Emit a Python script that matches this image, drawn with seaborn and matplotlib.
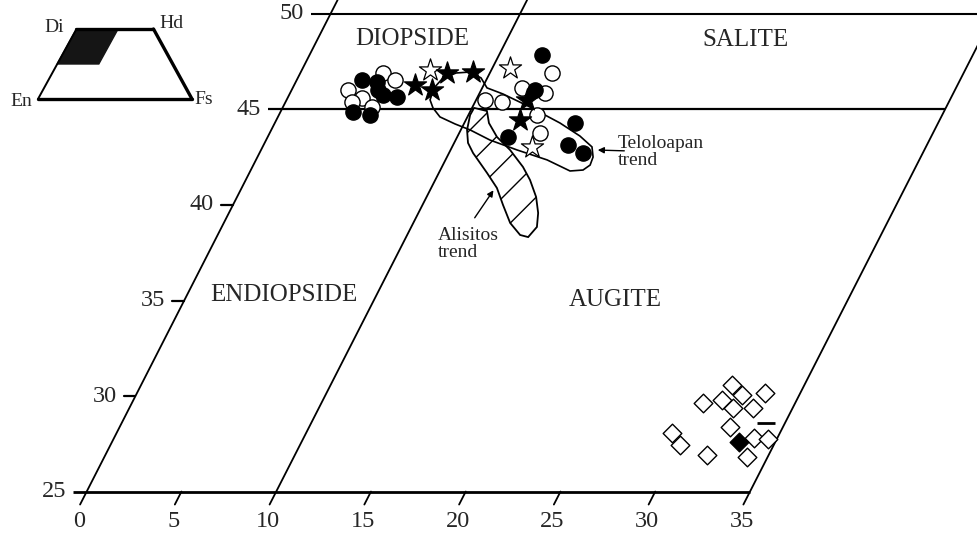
import numpy as np
import seaborn as sns
import matplotlib.pyplot as plt
from matplotlib.patches import Polygon

sns.set_theme(style='white')
plt.rcParams['font.family'] = ['Liberation Serif', 'DejaVu Serif']
plt.rcParams['hatch.linewidth'] = 1.0

# pyroxene compositions (Fs %, Wo %)
dot_fs = [12.25, 3.43, 4.26, 4.57, 4.97, 5.73, 3.84, 4.81, 12.84, 15.85, 12.69, 16.08, 17.10]
dot_wo = [47.85, 46.54, 46.46, 46.02, 45.76, 45.67, 44.88, 44.71, 46.02, 44.28, 43.58, 43.14, 42.71]
ring_fs = [2.98, 4.38, 5.19, 3.92, 3.48, 4.67, 13.27, 12.10, 13.45, 10.47, 11.40, 13.61, 14.27]
ring_wo = [46.02, 46.90, 46.54, 45.59, 45.41, 45.15, 46.90, 46.11, 45.85, 45.50, 45.41, 44.71, 43.75]
star_fs = [6.37, 7.39, 7.73, 9.09, 12.67, 12.86]
star_wo = [46.28, 46.02, 46.90, 46.98, 45.50, 44.45]
ostar_fs = [6.77, 10.94, 14.19]
ostar_wo = [47.07, 47.16, 43.05]
diam_fs = [31.17, 30.16, 31.05, 31.96, 33.15, 31.88, 32.94, 32.20, 29.30, 30.06, 33.75, 34.56, 31.74, 33.89]
diam_wo = [30.58, 29.62, 29.79, 30.05, 30.14, 29.36, 29.36, 28.39, 28.05, 27.43, 27.79, 27.73, 26.91, 26.82]
fdiam_fs = [33.05]
fdiam_wo = [27.61]
dash_fs = [33.99]
dash_wo = [28.60]

# trend fields
telo_fs = [7.57, 7.46, 7.64, 8.22, 8.93, 9.67, 10.25, 11.26, 13.03, 15.05, 16.45, 17.38, 17.71, 17.77,
           17.53, 16.87, 15.36, 13.51, 11.81, 10.49, 9.54, 8.55, 7.94]
telo_wo = [45.50, 46.13, 46.60, 46.91, 46.96, 46.65, 46.13, 45.81, 45.13, 44.29, 43.61, 43.04, 42.51, 42.09,
           41.83, 41.78, 42.36, 42.88, 43.40, 43.93, 44.24, 44.61, 45.08]
alis_fs = [10.11, 10.87, 11.30, 12.10, 13.14, 14.28, 15.00, 15.78, 16.32, 16.63, 16.44, 15.96, 15.11, 14.25,
           13.47, 12.54, 11.27, 10.73, 10.33, 10.09]
alis_wo = [45.08, 44.92, 44.29, 43.56, 42.88, 41.99, 41.31, 40.42, 39.58, 38.85, 38.32, 38.43, 39.06, 40.00,
           40.89, 41.68, 42.72, 43.25, 43.93, 44.71]

# field boundaries and labels
fs_bounds = [0, 10, 35]
wo_bounds = [25, 45, 50]
fs_ticks = [0, 5, 10, 15, 20, 25, 30, 35]
wo_ticks = [25, 30, 35, 40, 45, 50]
fields = ['DIOPSIDE', 'SALITE', 'ENDIOPSIDE', 'AUGITE']
field_fs = [5.0, 22.6, 5.1, 22.7]
field_wo = [48.7, 48.65, 35.3, 35.05]

# inset quadrilateral (En-Fs-Hd-Di) and shaded field
quad_names = ['En', 'Fs', 'Hd', 'Di']
quad_fs = [0, 100, 50, 0]
quad_wo = [0, 0, 50, 50]
shade_fs = [0, 27, 27, 0]
shade_wo = [25, 25, 50, 50]

K = 0.5145


def sk(fs, wo, base=25, k=K):
    return np.asarray(fs, dtype=float) + k * (np.asarray(wo, dtype=float) - base)


fig = plt.figure(figsize=(9.78, 5.33), dpi=100)
ax = fig.add_axes([0, 0, 1, 1])
ax.set_xlim(-4.575, 47.03)
ax.set_ylim(22.83, 50.73)
ax.axis('off')

# horizontal boundaries
for wo, start, lw in zip(wo_bounds, [-0.7, -0.75, -1.05], [2.0, 1.6, 1.5]):
    ax.plot(sk([start, 35], [wo, wo]), [wo, wo], color='black', lw=lw, solid_capstyle='butt')
# slanted boundaries
for fs in fs_bounds:
    ax.plot(sk([fs, fs], [24.32, 50.73]), [24.32, 50.73], color='black', lw=1.3)
for fs in fs_ticks:
    if fs not in fs_bounds:
        ax.plot(sk([fs, fs], [24.32, 25]), [24.32, 25], color='black', lw=1.3)
    ax.annotate(str(fs), xy=(sk(fs, 25), 25), xytext=(-8, -30), textcoords='offset pixels',
                ha='center', va='center', fontsize=17.5)
for wo in wo_ticks:
    length = {25: 0.7, 45: 0.75, 50: 1.05}.get(wo, 0.63)
    if wo not in wo_bounds:
        ax.plot(sk([-length, 0], [wo, wo]), [wo, wo], color='black', lw=1.6)
    ax.annotate(str(wo), xy=(sk(-length, wo), wo), xytext=(-7, 0), textcoords='offset pixels',
                ha='right', va='center', fontsize=17.5)

for name, fs, wo in zip(fields, field_fs, field_wo):
    ax.text(sk(fs, wo), wo, name, ha='center', va='center', fontsize=18)

# trend fields
ax.add_patch(Polygon(np.column_stack([sk(alis_fs, alis_wo), alis_wo]), closed=True,
                     facecolor='white', edgecolor='black', lw=1.3, hatch='/', zorder=2))
ax.add_patch(Polygon(np.column_stack([sk(telo_fs, telo_wo), telo_wo]), closed=True,
                     fill=False, edgecolor='black', lw=1.2, zorder=3))

# data points
sns.scatterplot(x=sk(ring_fs, ring_wo), y=ring_wo, marker='o', s=120, color='white',
                edgecolor='black', linewidth=1.0, ax=ax, zorder=4)
sns.scatterplot(x=sk(dot_fs, dot_wo), y=dot_wo, marker='o', s=120, color='black',
                edgecolor='black', linewidth=1.0, ax=ax, zorder=5)
sns.scatterplot(x=sk(ostar_fs, ostar_wo), y=ostar_wo, marker='*', s=280, color='white',
                edgecolor='black', linewidth=0.9, ax=ax, zorder=5)
sns.scatterplot(x=sk(star_fs, star_wo), y=star_wo, marker='*', s=280, color='black',
                edgecolor='black', linewidth=0.9, ax=ax, zorder=6)
sns.scatterplot(x=sk(diam_fs, diam_wo), y=diam_wo, marker='D', s=90, color='white',
                edgecolor='black', linewidth=1.0, ax=ax, zorder=5)
sns.scatterplot(x=sk(fdiam_fs, fdiam_wo), y=fdiam_wo, marker='D', s=90, color='black',
                edgecolor='black', linewidth=1.0, ax=ax, zorder=6)
ax.plot(sk(dash_fs, dash_wo), dash_wo, marker='_', ms=13, mew=2.0, color='black', ls='none')

# annotations
ax.annotate('', xy=(sk(13.37, 40.89), 40.89), xytext=(sk(13.08, 39.21), 39.21),
            arrowprops=dict(arrowstyle='-|>', color='black', lw=1.0, mutation_scale=9))
ax.text(sk(11.87, 37.96), 37.96, 'Alisitos\ntrend', ha='left', va='center', fontsize=14,
        linespacing=1.05)
ax.annotate('', xy=(sk(17.62, 42.88), 42.88), xytext=(sk(19.34, 42.83), 42.83),
            arrowprops=dict(arrowstyle='-|>', color='black', lw=1.0, mutation_scale=9))
ax.text(sk(18.89, 42.77), 42.77, 'Teloloapan\ntrend', ha='left', va='center', fontsize=14,
        linespacing=1.05)

# inset
ins = fig.add_axes([38 / 978, 1 - 99 / 533, 154 / 978, 70 / 533])
ins.set_xlim(0, 100)
ins.set_ylim(0, 50)
ins.axis('off')
qx = sk(quad_fs, quad_wo, base=0, k=0.5)
ins.add_patch(Polygon(np.column_stack([sk(shade_fs, shade_wo, base=0, k=0.5), shade_wo]),
                      closed=True, facecolor='#151515', edgecolor='#151515', lw=1.0, clip_on=False))
edges = [(0, 1, 2.4), (1, 2, 2.4), (2, 3, 2.4), (3, 0, 1.4)]
for a, b, lw in edges:
    ins.plot([qx[a], qx[b]], [quad_wo[a], quad_wo[b]], color='black', lw=lw, clip_on=False,
             solid_capstyle='round')
offsets = {'En': (-17, -3), 'Fs': (12, 0), 'Hd': (18, 5), 'Di': (-22, 1)}
for name, x, y in zip(quad_names, qx, quad_wo):
    ins.annotate(name, xy=(x, y), xytext=offsets[name], textcoords='offset pixels',
                 ha='center', va='center', fontsize=14)

fig.savefig('out.png', dpi=100)
